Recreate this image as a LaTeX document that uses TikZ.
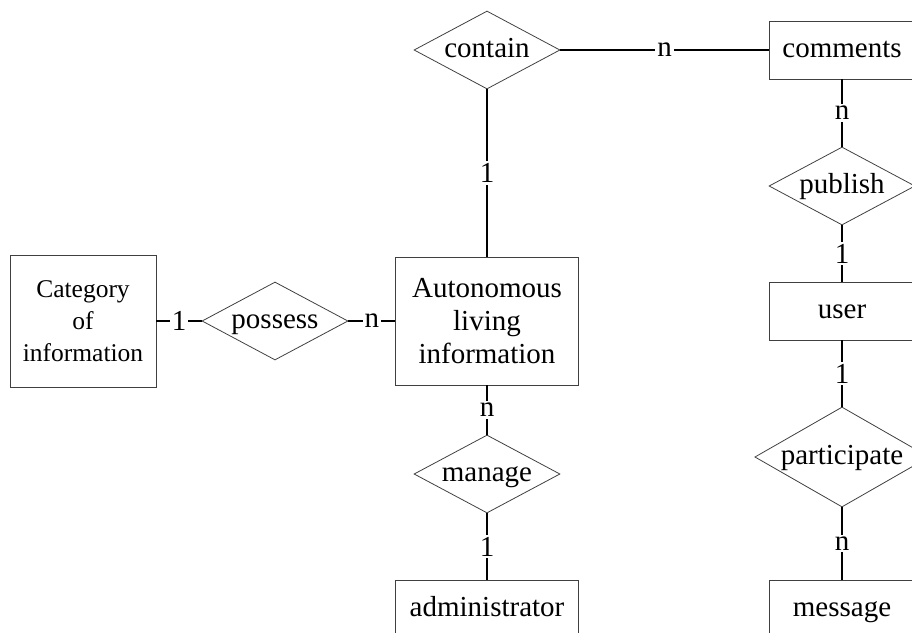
\documentclass[tikz,border=0pt]{standalone}
\usepackage{fontspec}
\setmainfont{Liberation Serif}
\usetikzlibrary{shapes.geometric}

\begin{document}
\begin{tikzpicture}[x=1pt, y=-1pt,
	entity/.style={draw=black!75, line width=0.8pt, align=center, inner sep=0pt, font=\fontsize{29}{33}\selectfont},
	flatentity/.style={entity, text height=20pt, text depth=6pt, minimum height=58pt},
	relation/.style={diamond, aspect=2, draw=black!75, line width=0.8pt, inner sep=0pt, text height=20pt, text depth=6pt, minimum width=146pt, minimum height=78pt, font=\fontsize{29}{33}\selectfont},
	link/.style={line width=2pt},
	card/.style={fill=white, inner sep=2pt, font=\fontsize{29}{33}\selectfont}]
			%%%%% START %%%%%
			
			\useasboundingbox (0, 0) rectangle (912, 632);
			\clip (0, 0) rectangle (912, 632);
			
			\node[entity, minimum width=146pt, minimum height=132pt, font=\fontsize{25.5}{32}\selectfont] (category) at (83, 321) {Category\\of\\information};
			\node[relation] (possess) at (275, 321) {possess};
			\node[entity, minimum width=183pt, minimum height=128pt] (autonomous) at (487, 321) {Autonomous\\living\\information};
			
			\node[relation] (contain) at (487, 50) {contain};
			\node[flatentity, minimum width=146pt] (comments) at (842, 50) {comments};
			
			\node[relation] (manage) at (487, 474) {manage};
			\node[flatentity, minimum width=183pt] (admin) at (487, 609) {administrator};
			
			\node[relation] (publish) at (842, 186) {publish};
			\node[flatentity, minimum width=146pt] (user) at (842, 311) {user};
			\node[relation, minimum width=164pt, minimum height=100pt] (participate) at (842, 457) {participate};
			\node[flatentity, minimum width=146pt] (message) at (842, 609) {message};
			
			\draw[link] (category) -- node[card] {1} (possess);
			\draw[link] (possess) -- node[card] {n} (autonomous);
			\draw[link] (contain) -- node[card] {1} (autonomous);
			\draw[link] (contain) -- node[card] {n} (comments);
			\draw[link] (autonomous) -- node[card] {n} (manage);
			\draw[link] (manage) -- node[card] {1} (admin);
			
			\draw[link] (comments) -- node[card] {n} (publish);
			\draw[link] (publish) -- node[card] {1} (user);
			\draw[link] (user) -- node[card] {1} (participate);
			\draw[link] (participate) -- node[card] {n} (message);
			
			%%%%% END %%%%%
\end{tikzpicture}
\end{document}
